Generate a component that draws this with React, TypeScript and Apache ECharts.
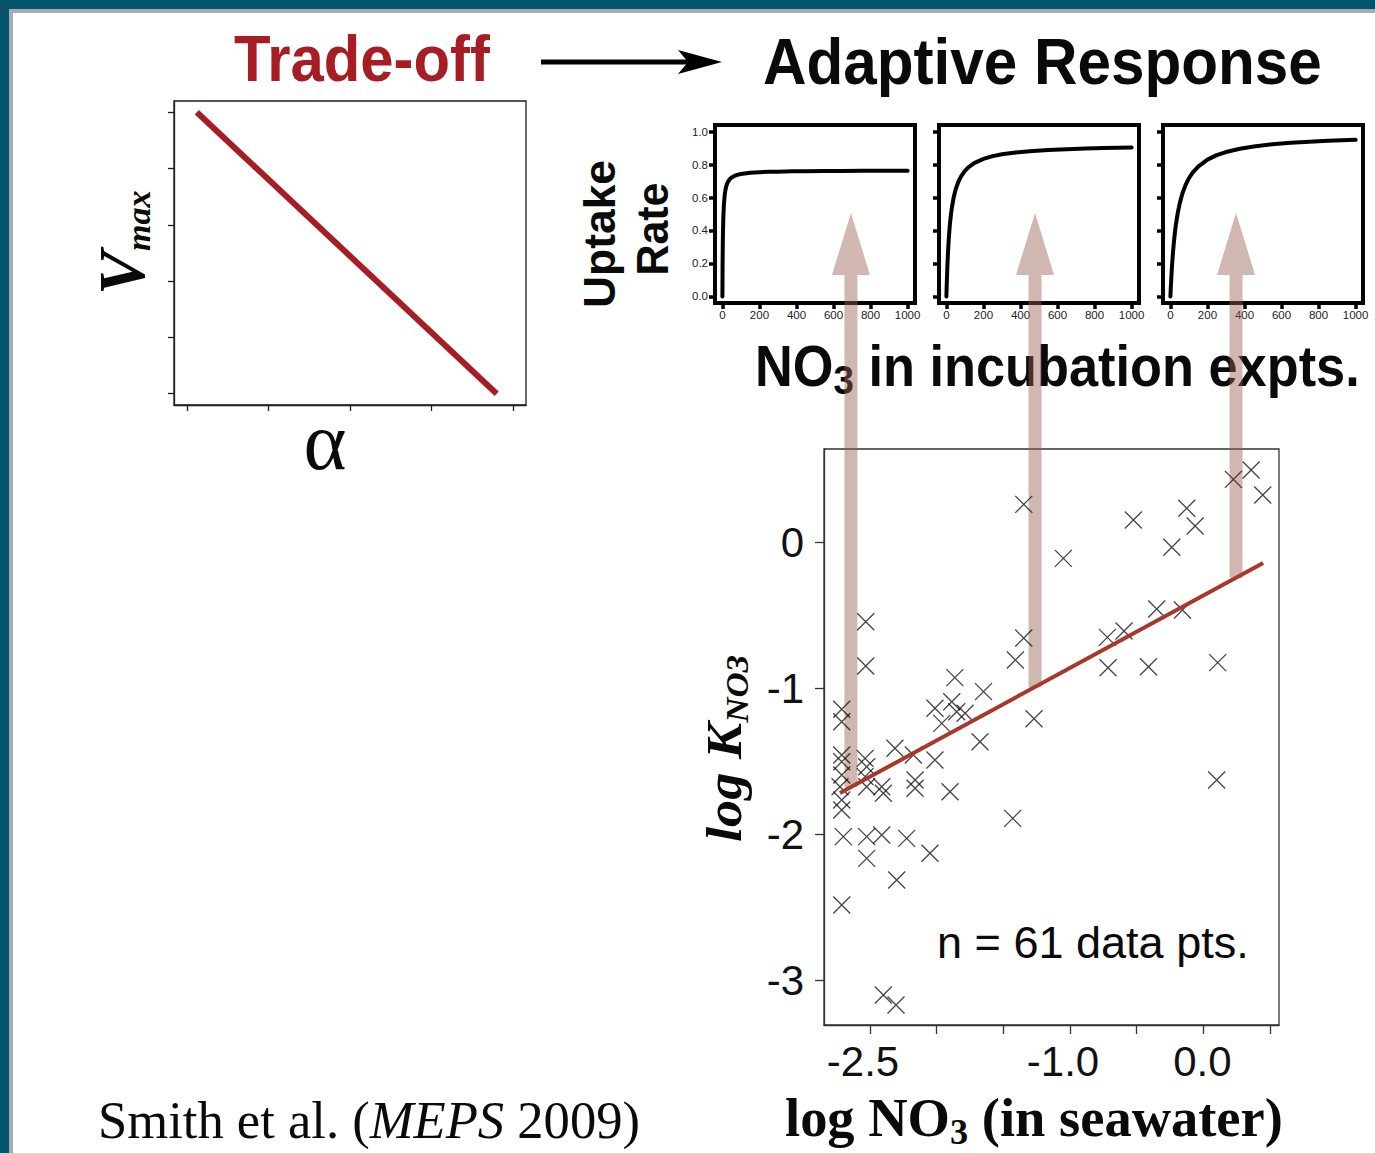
import React, { useEffect, useRef } from "react";
import * as echarts from "echarts";

// ---------- data ----------
// Trade-off panel (Vmax vs alpha)
const tradeAlpha = [0.03, 0.95];
const tradeVmax = [1.0, 0.0];
const tradeTicksX = [0, 0.25, 0.5, 0.75, 1];
const tradeTicksY = [0, 0.2, 0.4, 0.6, 0.8, 1.0];

// Uptake-rate panels (NO3 in incubation expts.)
const uptakeN = [0, 1, 2, 3, 5, 8, 12, 16, 20, 25, 30, 40, 50, 65, 80, 100, 120, 150, 200, 250, 300, 375, 450, 550, 650, 750, 850, 1000];
const uptake1 = [0, 0.191, 0.306, 0.383, 0.478, 0.556, 0.612, 0.644, 0.665, 0.683, 0.695, 0.712, 0.722, 0.731, 0.737, 0.743, 0.746, 0.75, 0.754, 0.756, 0.757, 0.759, 0.76, 0.761, 0.761, 0.762, 0.762, 0.763];
const uptake2 = [0, 0.042, 0.08, 0.115, 0.177, 0.254, 0.335, 0.399, 0.45, 0.501, 0.542, 0.605, 0.649, 0.697, 0.73, 0.762, 0.785, 0.809, 0.834, 0.851, 0.862, 0.873, 0.881, 0.888, 0.893, 0.897, 0.9, 0.903];
const uptake3 = [0, 0.026, 0.05, 0.073, 0.116, 0.173, 0.239, 0.294, 0.342, 0.394, 0.438, 0.508, 0.563, 0.625, 0.671, 0.717, 0.751, 0.788, 0.83, 0.857, 0.876, 0.896, 0.91, 0.923, 0.932, 0.939, 0.944, 0.95];
const uptakeXTicks = [0, 200, 400, 600, 800, 1000];
const uptakeYTicks = [0, 0.2, 0.4, 0.6, 0.8, 1.0];

// Scatter: log K_NO3 vs log NO3 (n = 61)
const logNO3 = [
  0.358, 0.225, 0.445, -1.347, -0.525, -0.125, -0.062, -0.237, -1.05, -2.532,
  -2.532, -1.347, -1.41, -0.35, -0.157, -0.72, -0.595, -0.715, -0.412, 0.107,
  -1.864, -1.649, -1.27, -2.712, -2.712, -2.013, -1.887, -1.85, -1.962, -1.787,
  -1.675, -2.712, -2.712, -2.537, -2.525, -2.313, -2.175, -2.013, -2.712, -2.725,
  -2.537, -2.525, -2.412, -2.4, -2.162, -2.162, -1.9, -2.712, -2.712, -2.7,
  -2.525, -2.412, -2.225, -2.05, -2.525, -2.3, -2.712, 0.1, -1.43, -2.4,
  -2.305,
];
const logK = [
  0.493, 0.429, 0.322, 0.258, 0.151, 0.231, 0.11, -0.036, -0.112, -0.546,
  -0.849, -0.658, -0.808, -0.459, -0.466, -0.653, -0.61, -0.861, -0.854, -0.826,
  -0.929, -1.025, -1.21, -1.146, -1.231, -1.139, -1.094, -1.162, -1.242, -1.173,
  -1.368, -1.459, -1.505, -1.482, -1.539, -1.413, -1.459, -1.493, -1.596, -1.676,
  -1.607, -1.676, -1.676, -1.721, -1.63, -1.687, -1.71, -1.767, -1.836, -2.018,
  -2.018, -2.007, -2.03, -2.132, -2.167, -2.315, -2.486, -1.63, -1.893, -3.103,
  -3.171,
];
const fitX = [-2.725, 0.448];
const fitY = [-1.719, -0.144];
const arrowAtNO3 = [-2.643, -1.2625, 0.245];
const scatterXTicks = [-2.5, -2, -1.5, -1, -0.5, 0, 0.5];
const scatterXLabels = [-2.5, -1, 0];
const scatterYTicks = [-3, -2, -1, 0];

// ---------- styling constants ----------
const SANS = "'Liberation Sans', Arial, Helvetica, sans-serif";
const SERIF = "'Liberation Serif', 'Times New Roman', serif";
const RED = "#a61e24";
const FIT_RED = "#a7382b";
const ARROW_FILL = "rgba(150,95,80,0.45)";
const ARROW_TIP_Y = 213;
const ARROW_HEAD_BASE_Y = 275;

type Piece = {
  text: string;
  size: number;
  family: string;
  weight?: string;
  style?: string;
  dy?: number;
  color?: string;
};

let measureCtx: CanvasRenderingContext2D | null = null;
function measure(p: Piece): number {
  if (!measureCtx) measureCtx = document.createElement("canvas").getContext("2d");
  const ctx = measureCtx!;
  ctx.font = `${p.style || "normal"} ${p.weight || "normal"} ${p.size}px ${p.family}`;
  return ctx.measureText(p.text).width;
}

function run(
  pieces: Piece[],
  x: number,
  baseline: number,
  opts: { rotation?: number; targetWidth?: number; align?: "left" | "center"; z?: number } = {}
) {
  const widths = pieces.map(measure);
  const total = widths.reduce((a, b) => a + b, 0);
  const scale = opts.targetWidth ? opts.targetWidth / total : 1;
  let cx = opts.align === "center" ? -total / 2 : 0;
  const children = pieces.map((p, i) => {
    const off = p.family === SERIF ? 0.34 : 0.346;
    const el = {
      type: "text",
      x: cx,
      y: (p.dy || 0) - off * p.size,
      style: {
        text: p.text,
        fontSize: p.size,
        fontFamily: p.family,
        fontWeight: p.weight || "normal",
        fontStyle: p.style || "normal",
        fill: p.color || "#0a0a0a",
        align: "left",
        verticalAlign: "middle",
      },
    };
    cx += widths[i];
    return el;
  });
  return {
    type: "group",
    x,
    y: baseline,
    rotation: opts.rotation || 0,
    scaleX: scale,
    z: opts.z ?? 0,
    children,
  };
}

export default function App() {
  const ref = useRef<HTMLDivElement>(null);

  useEffect(() => {
    document.body.style.margin = "0";
    const chart = echarts.init(ref.current!, null, { renderer: "svg", width: 1375, height: 1153 });

    const smallLefts = [715, 939, 1163];
    const curves = [uptake1, uptake2, uptake3];

    const grid: any[] = [
      { left: 174, top: 101, width: 352, height: 304, show: true, borderColor: "#1e1e1e", borderWidth: 1.3 },
      ...smallLefts.map((l) => ({ left: l, top: 125, width: 200, height: 178, show: true, borderColor: "#000", borderWidth: 4 })),
      { left: 824, top: 449, width: 455, height: 576, show: true, borderColor: "#333", borderWidth: 1.3 },
    ];

    const xAxis: any[] = [
      {
        gridIndex: 0, type: "value", min: -0.04, max: 1.04, position: "bottom",
        axisLine: { show: true, onZero: false, lineStyle: { color: "#1e1e1e", width: 1.3 } },
        axisTick: { show: true, customValues: tradeTicksX, length: 6, lineStyle: { color: "#1e1e1e", width: 1.3 } },
        axisLabel: { show: false }, splitLine: { show: false },
      },
      ...smallLefts.map((_, i) => ({
        gridIndex: i + 1, type: "value", min: -40, max: 1040, position: "bottom",
        axisLine: { show: true, onZero: false, lineStyle: { color: "#000", width: 4 } },
        axisTick: { show: true, customValues: uptakeXTicks, length: 6, lineStyle: { color: "#000", width: 3.5 } },
        axisLabel: {
          show: true, customValues: uptakeXTicks, fontSize: 11.5, fontFamily: SANS, color: "#222", margin: 6,
          formatter: (v: number) => String(v),
        },
        splitLine: { show: false },
      })),
      {
        gridIndex: 4, type: "value", min: -2.845, max: 0.567, position: "bottom",
        axisLine: { show: true, onZero: false, lineStyle: { color: "#333", width: 1.3 } },
        axisTick: { show: true, customValues: scatterXTicks, length: 9, lineStyle: { color: "#333", width: 1.3 } },
        axisLabel: {
          show: true, customValues: scatterXLabels, fontSize: 42, fontFamily: SANS, color: "#111", margin: 15,
          formatter: (v: number) => (v < 0 ? `{neg|${v.toFixed(1)}}` : `{pos|${v.toFixed(1)}}`),
          rich: {
            neg: { fontSize: 42, fontFamily: SANS, color: "#111", padding: [0, 14, 0, 0] },
            pos: { fontSize: 42, fontFamily: SANS, color: "#111", padding: [0, 2, 0, 0] },
          },
        },
        splitLine: { show: false },
      },
    ];

    const yAxis: any[] = [
      {
        gridIndex: 0, type: "value", min: -0.04, max: 1.04, position: "left",
        axisLine: { show: true, onZero: false, lineStyle: { color: "#1e1e1e", width: 1.3 } },
        axisTick: { show: true, customValues: tradeTicksY, length: 6, lineStyle: { color: "#1e1e1e", width: 1.3 } },
        axisLabel: { show: false }, splitLine: { show: false },
      },
      ...smallLefts.map((_, i) => ({
        gridIndex: i + 1, type: "value", min: -0.04, max: 1.04, position: "left",
        axisLine: { show: true, onZero: false, lineStyle: { color: "#000", width: 4 } },
        axisTick: { show: true, customValues: uptakeYTicks, length: 6, lineStyle: { color: "#000", width: 3.5 } },
        axisLabel: {
          show: i === 0, customValues: uptakeYTicks, fontSize: 11.5, fontFamily: SANS, color: "#222", margin: 7,
          formatter: (v: number) => v.toFixed(1),
        },
        splitLine: { show: false },
      })),
      {
        gridIndex: 4, type: "value", min: -3.308, max: 0.637, position: "left",
        axisLine: { show: true, onZero: false, lineStyle: { color: "#333", width: 1.3 } },
        axisTick: { show: true, customValues: scatterYTicks, length: 9, lineStyle: { color: "#333", width: 1.3 } },
        axisLabel: {
          show: true, customValues: scatterYTicks, fontSize: 42, fontFamily: SANS, color: "#111", margin: 20,
          formatter: (v: number) => String(v),
        },
        splitLine: { show: false },
      },
    ];

    const series: any[] = [
      {
        type: "line", xAxisIndex: 0, yAxisIndex: 0, symbol: "none", silent: true,
        data: tradeAlpha.map((a, i) => [a, tradeVmax[i]]),
        lineStyle: { color: RED, width: 6 },
      },
      ...curves.map((c, i) => ({
        type: "line", xAxisIndex: i + 1, yAxisIndex: i + 1, symbol: "none", silent: true,
        data: uptakeN.map((n, j) => [n, c[j]]),
        lineStyle: { color: "#000", width: 4, cap: "round", join: "round" },
      })),
      {
        type: "scatter", xAxisIndex: 4, yAxisIndex: 4, silent: true, z: 3,
        symbol: "path://M0,0L10,10M10,0L0,10", symbolSize: 17,
        itemStyle: { color: "rgba(0,0,0,0)", borderColor: "#151515", borderWidth: 1.3 },
        data: logNO3.map((x, i) => [x, logK[i]]),
      },
      {
        type: "line", xAxisIndex: 4, yAxisIndex: 4, symbol: "none", silent: true, z: 4,
        data: fitX.map((x, i) => [x, fitY[i]]),
        lineStyle: { color: FIT_RED, width: 4 },
      },
    ];

    chart.setOption({ animation: false, backgroundColor: "#fff", grid, xAxis, yAxis, series });

    // arrows from the fit line up to the uptake panels
    const slope = (fitY[1] - fitY[0]) / (fitX[1] - fitX[0]);
    const arrows = arrowAtNO3.map((ax) => {
      const by = fitY[0] + (ax - fitX[0]) * slope;
      const [px, py] = chart.convertToPixel({ gridIndex: 4 } as any, [ax, by]) as number[];
      const sw = 6.5, hw = 19;
      return {
        type: "polygon", z: 1, silent: true,
        shape: {
          points: [
            [px - sw, py], [px - sw, ARROW_HEAD_BASE_Y], [px - hw, ARROW_HEAD_BASE_Y], [px, ARROW_TIP_Y],
            [px + hw, ARROW_HEAD_BASE_Y], [px + sw, ARROW_HEAD_BASE_Y], [px + sw, py],
          ],
        },
        style: { fill: ARROW_FILL },
      };
    });

    const texts: any[] = [
      run([{ text: "Trade-off", size: 64, family: SANS, weight: "bold", color: RED }], 234, 81, { targetWidth: 256 }),
      run([{ text: "Adaptive Response", size: 64, family: SANS, weight: "bold" }], 763, 84, { targetWidth: 559 }),
      run([{ text: "Uptake", size: 44, family: SANS, weight: "bold" }], 615, 234, { rotation: Math.PI / 2, align: "center", targetWidth: 148 }),
      run([{ text: "Rate", size: 44, family: SANS, weight: "bold" }], 668, 229, { rotation: Math.PI / 2, align: "center", targetWidth: 93 }),
      run(
        [
          { text: "NO", size: 57, family: SANS, weight: "bold" },
          { text: "3", size: 40, family: SANS, weight: "bold", dy: 8 },
          { text: " in incubation expts.", size: 57, family: SANS, weight: "bold" },
        ],
        755, 386, { targetWidth: 605 }
      ),
      run(
        [
          { text: "V", size: 66, family: SERIF, weight: "bold", style: "italic" },
          { text: "max", size: 34, family: SERIF, weight: "bold", style: "italic", dy: 6 },
        ],
        144, 295, { rotation: Math.PI / 2 }
      ),
      run([{ text: "\u03b1", size: 82, family: SERIF }], 325, 469, { align: "center" }),
      run(
        [
          { text: "log K", size: 50, family: SERIF, weight: "bold", style: "italic" },
          { text: "NO3", size: 32, family: SERIF, weight: "bold", style: "italic", dy: 7 },
        ],
        741, 842, { rotation: Math.PI / 2, targetWidth: 187 }
      ),
      run(
        [
          { text: "log NO", size: 54, family: SERIF, weight: "bold" },
          { text: "3", size: 36, family: SERIF, weight: "bold", dy: 8 },
          { text: " (in seawater)", size: 54, family: SERIF, weight: "bold" },
        ],
        785, 1136, { targetWidth: 498 }
      ),
      run([{ text: "n = 61 data pts.", size: 44, family: SANS }], 937, 958, { targetWidth: 312 }),
      run(
        [
          { text: "Smith et al. (", size: 52, family: SERIF },
          { text: "MEPS", size: 52, family: SERIF, style: "italic" },
          { text: " 2009)", size: 52, family: SERIF },
        ],
        98, 1138, { targetWidth: 542 }
      ),
    ];

    const decor: any[] = [
      { type: "rect", shape: { x: 0, y: 0, width: 1375, height: 9 }, style: { fill: "#03536b" }, z: 0 },
      { type: "rect", shape: { x: 0, y: 0, width: 9, height: 1153 }, style: { fill: "#03536b" }, z: 0 },
      { type: "rect", shape: { x: 9, y: 9, width: 1366, height: 4 }, style: { fill: "#a5abb0" }, z: 0 },
      { type: "rect", shape: { x: 9, y: 9, width: 4, height: 1144 }, style: { fill: "#a5abb0" }, z: 0 },
      { type: "rect", shape: { x: 541, y: 59.5, width: 150, height: 5 }, style: { fill: "#000" }, z: 0 },
      { type: "polygon", shape: { points: [[722, 62], [678, 50], [688, 62], [678, 74]] }, style: { fill: "#000" }, z: 0 },
    ];

    chart.setOption({ graphic: [...decor, ...texts, ...arrows] });

    return () => chart.dispose();
  }, []);

  return (
    <div
      ref={ref}
      style={{ position: "absolute", left: 0, top: 0, width: 1375, height: 1153, background: "#fff" }}
    />
  );
}
